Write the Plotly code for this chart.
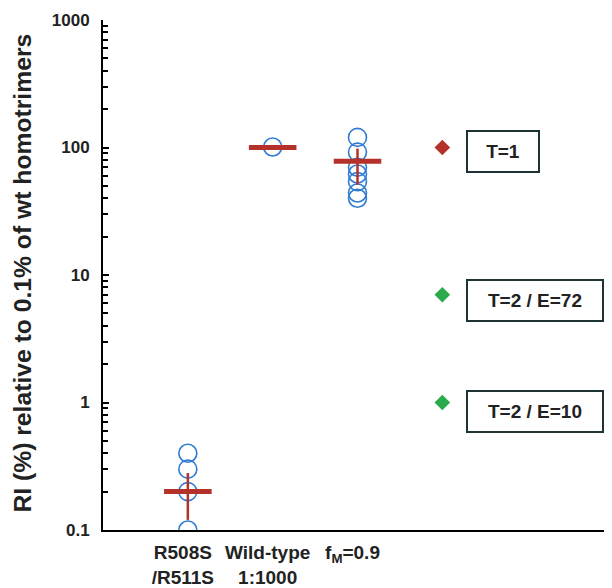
import math
import plotly.graph_objects as go

# ---- data ----
categories = ["R508S<br>/R511S", "Wild-type<br>1:1000", "f<sub>M</sub>=0.9"]
r508s_values = [0.4, 0.3, 0.2, 0.1]
wildtype_values = [101]
fm_values = [120, 92, 70, 62, 54, 44, 40]
group_means = [0.2, 100, 78]
err_plus = [0.08, 0, 20]
err_minus = [0.08, 0, 27]

model_labels = ["T=1", "T=2 / E=72", "T=2 / E=10"]
model_values = [100, 7, 1]
model_colors = ["#b5322b", "#2aaa4a", "#2aaa4a"]

y_tick_vals = [0.1, 1, 10, 100, 1000]
y_tick_text = ["0.1", "1", "10", "100", "1000"]

BLUE = "#2f7bd4"
RED = "#b5322b"
FONT = "Liberation Sans"

fig = go.Figure()

groups = [r508s_values, wildtype_values, fm_values]
for i, vals in enumerate(groups):
    fig.add_trace(go.Scatter(
        x=[i + 1] * len(vals), y=vals, mode="markers",
        marker=dict(symbol="circle-open", size=18, color=BLUE,
                    line=dict(width=1.6, color=BLUE)),
        showlegend=False, hoverinfo="y"))

fig.add_trace(go.Scatter(
    x=[i + 1 for i in range(len(categories))], y=group_means, mode="markers",
    marker=dict(symbol="line-ew", size=34, color=RED,
                line=dict(width=5, color=RED)),
    error_y=dict(type="data", symmetric=False, array=err_plus,
                 arrayminus=err_minus, color=RED, thickness=2.5, width=0),
    showlegend=False))

model_x = len(categories) + 1
fig.add_trace(go.Scatter(
    x=[model_x] * len(model_values), y=model_values, mode="markers",
    marker=dict(symbol="diamond", size=12, color=model_colors),
    showlegend=False))

box_widths = [70, 134, 134]
box_shifts = [-4, -6, -9]
for lab, val, w, sh in zip(model_labels, model_values, box_widths, box_shifts):
    fig.add_annotation(
        x=model_x + 0.28, y=math.log10(val), xref="x", yref="y",
        xanchor="left", yanchor="middle", yshift=sh,
        text="<b>" + lab + "</b>", showarrow=False,
        width=w, height=39, align="center", valign="middle",
        bordercolor="#1e3434", borderwidth=2, borderpad=0,
        bgcolor="white",
        font=dict(family=FONT, size=19, color="#222222"))

fig.add_annotation(
    x=-0.159, y=0.503, xref="paper", yref="paper",
    text="<b>RI (%) relative to 0.1% of wt homotrimers</b>",
    textangle=-90, showarrow=False, xanchor="center", yanchor="middle",
    font=dict(family=FONT, size=24.7, color="#222222"))

fig.update_xaxes(
    range=[0, 6], showline=True, linecolor="black", linewidth=2,
    showgrid=False, zeroline=False, ticks="",
    tickvals=[i + 1 for i in range(len(categories))],
    ticktext=["<b>" + c + "</b>" for c in categories],
    tickfont=dict(family=FONT, size=19, color="#222222"),
    ticklabelstandoff=4, ticklabelshift=-5)

fig.update_yaxes(
    type="log", range=[-1, 3], showline=True, linecolor="black", linewidth=2,
    showgrid=False, zeroline=False,
    tickvals=y_tick_vals, ticktext=["<b>" + t + "</b>" for t in y_tick_text],
    ticks="inside", ticklen=6, tickwidth=2, tickcolor="black",
    tickfont=dict(family=FONT, size=17, color="#222222"),
    ticklabelstandoff=8,
    minor=dict(ticks="inside", ticklen=5, tickwidth=1.5, tickcolor="black",
               dtick="D1", showgrid=False))

# the page body adds an 8px offset, so the figure is 8px smaller
fig.update_layout(
    width=604, height=580,
    margin=dict(l=95, r=0, t=12, b=58, autoexpand=False),
    plot_bgcolor="white", paper_bgcolor="white",
    font=dict(family=FONT))

fig.write_html("out.html")
